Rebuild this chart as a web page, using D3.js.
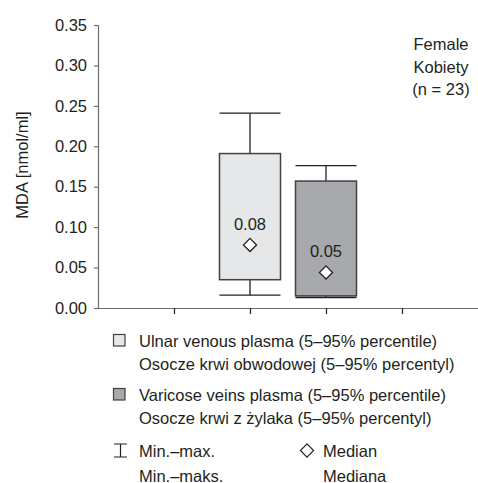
<!DOCTYPE html>
<html>
<head>
<meta charset="utf-8">
<script src="https://cdn.jsdelivr.net/npm/d3@7"></script>
<style>
  body { margin: 0; background: #fff; }
  svg { display: block; font-family: "Liberation Sans", Arial, sans-serif; }
</style>
</head>
<body>
<div id="chart"></div>
<script>
// slots along the x axis; only the two middle ones carry a box
const slots = ['s1', 'ulnar', 'varicose', 's4'];
const groups = ['ulnar', 'varicose'];
const minVals = [0.016, 0.013];
const p5Vals = [0.035, 0.015];
const p95Vals = [0.191, 0.157];
const maxVals = [0.241, 0.176];
const medianVals = [0.078, 0.044];
const medianLabels = ['0.08', '0.05'];
const fills = ['#e6e7e8', '#a7a9ac'];
const yTicks = [0, 0.05, 0.10, 0.15, 0.20, 0.25, 0.30, 0.35];

const W = 478, H = 483;
const fs = 16.5;
const svg = d3.select('#chart')
    .append('svg')
    .attr('width', W)
    .attr('height', H);

const x = d3.scalePoint().domain(slots).range([98, 478]).padding(1);
const y = d3.scaleLinear().domain([0, 0.35]).range([308, 25]);

const axisColor = '#6d6e71';
const ink = '#231f20';

// y axis
const yAxis = svg.append('g')
    .attr('transform', 'translate(98,0)')
    .call(d3.axisLeft(y).tickValues(yTicks).tickFormat(d3.format('.2f')).tickSize(4).tickPadding(7));
yAxis.select('.domain').attr('stroke', axisColor).attr('stroke-width', 1.2);
yAxis.selectAll('.tick line').attr('stroke', axisColor).attr('stroke-width', 1.2);
yAxis.selectAll('.tick text').attr('font-size', fs).attr('fill', ink).attr('font-family', null);

// x axis
const xAxis = svg.append('g')
    .attr('transform', 'translate(0,308)')
    .call(d3.axisBottom(x).tickSize(6).tickSizeOuter(0).tickFormat(''));
xAxis.select('.domain').attr('stroke', axisColor).attr('stroke-width', 1.2);
xAxis.selectAll('.tick line').attr('stroke', ink).attr('stroke-width', 1.2);

// y label
svg.append('text')
    .attr('transform', 'translate(28,165) rotate(-90)')
    .attr('text-anchor', 'middle')
    .attr('font-size', fs)
    .attr('fill', ink)
    .text('MDA [nmol/ml]');

// boxes
const boxW = 61;
const boxes = svg.append('g').selectAll('g')
    .data(groups.map((g, i) => ({
        key: g, min: minVals[i], p5: p5Vals[i], p95: p95Vals[i], max: maxVals[i],
        med: medianVals[i], label: medianLabels[i], fill: fills[i]
    })))
    .join('g')
    .attr('transform', d => `translate(${x(d.key)},0)`);

boxes.append('line')
    .attr('x1', 0).attr('x2', 0)
    .attr('y1', d => y(d.max)).attr('y2', d => y(d.min))
    .attr('stroke', ink).attr('stroke-width', 1.3);

boxes.append('rect')
    .attr('x', -boxW / 2)
    .attr('width', boxW)
    .attr('y', d => y(d.p95))
    .attr('height', d => y(d.p5) - y(d.p95))
    .attr('fill', d => d.fill)
    .attr('stroke', '#414042')
    .attr('stroke-width', 1.5);

boxes.selectAll('line.cap')
    .data(d => [d.max, d.min])
    .join('line')
    .attr('class', 'cap')
    .attr('x1', -boxW / 2).attr('x2', boxW / 2)
    .attr('y1', v => y(v)).attr('y2', v => y(v))
    .attr('stroke', ink).attr('stroke-width', 1.3);

const diamond = d3.symbol().type(d3.symbolDiamond2).size(110);
boxes.append('path')
    .attr('d', diamond)
    .attr('transform', d => `translate(0,${y(d.med)})`)
    .attr('fill', '#fff')
    .attr('stroke', ink)
    .attr('stroke-width', 1.3);

boxes.append('text')
    .attr('y', d => y(d.med) - 15)
    .attr('text-anchor', 'middle')
    .attr('font-size', fs)
    .attr('fill', ink)
    .text(d => d.label);

// group note
const note = ['Female', 'Kobiety', '(n = 23)'];
svg.append('g').selectAll('text')
    .data(note)
    .join('text')
    .attr('x', 441)
    .attr('y', (d, i) => 50 + i * 22.5)
    .attr('text-anchor', 'middle')
    .attr('font-size', fs)
    .attr('fill', ink)
    .text(d => d);

// legend
const legend = svg.append('g');
const legendRows = [
    { fill: fills[0], lines: ['Ulnar venous plasma (5\u201395% percentile)', 'Osocze krwi obwodowej (5\u201395% percentyl)'], y: 347 },
    { fill: fills[1], lines: ['Varicose veins plasma (5\u201395% percentile)', 'Osocze krwi z \u017cylaka (5\u201395% percentyl)'], y: 401 }
];
legendRows.forEach(r => {
    legend.append('rect')
        .attr('x', 113.5).attr('y', r.y - 12.5)
        .attr('width', 11.5).attr('height', 11.5)
        .attr('fill', r.fill)
        .attr('stroke', '#414042').attr('stroke-width', 1.2);
    r.lines.forEach((t, i) => {
        legend.append('text')
            .attr('x', 139).attr('y', r.y + i * 23)
            .attr('font-size', fs)
            .attr('fill', ink)
            .text(t);
    });
});

// whisker symbol
const wy = 457;
legend.append('path')
    .attr('d', `M114,${wy - 13}H127M120.5,${wy - 13}V${wy}M114,${wy}H127`)
    .attr('fill', 'none').attr('stroke', ink).attr('stroke-width', 1.2);
['Min.\u2013max.', 'Min.\u2013maks.'].forEach((t, i) => {
    legend.append('text')
        .attr('x', 139).attr('y', wy + i * 25)
        .attr('font-size', fs).attr('fill', ink).text(t);
});

legend.append('path')
    .attr('d', diamond)
    .attr('transform', `translate(307,${wy - 6.5})`)
    .attr('fill', '#fff').attr('stroke', ink).attr('stroke-width', 1.2);
['Median', 'Mediana'].forEach((t, i) => {
    legend.append('text')
        .attr('x', 323).attr('y', wy + i * 25)
        .attr('font-size', fs).attr('fill', ink).text(t);
});
</script>
</body>
</html>
